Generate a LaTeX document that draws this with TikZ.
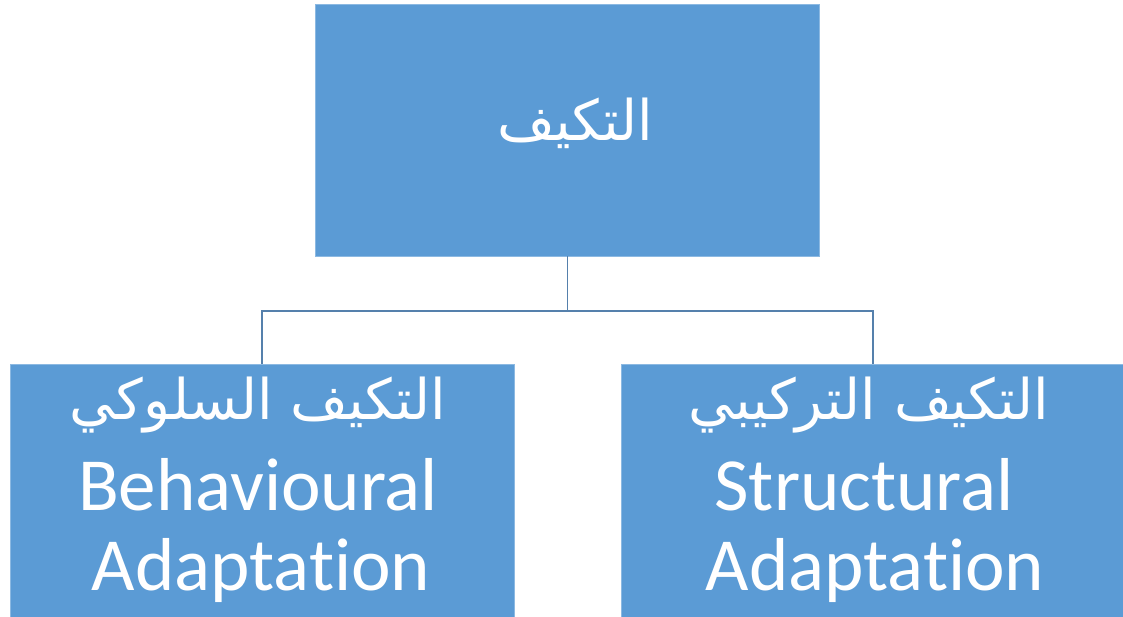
\documentclass[tikz,border=0pt]{standalone}
\usepackage{fontspec}
\setmainfont{Carlito}[Ligatures=NoCommon]
\newfontfamily\arabicfont[Script=Arabic]{DejaVu Sans}
\TeXXeTstate=1
\definecolor{boxblue}{HTML}{5B9BD5}
\definecolor{linkblue}{HTML}{5580AC}
\tikzset{
  box/.style={draw=boxblue!70!white, line width=0.8pt, fill=boxblue, minimum width=504pt, minimum height=252pt, inner sep=0pt},
  link/.style={draw=linkblue, line width=1.8pt},
  ar/.style={text=white, anchor=base, inner sep=0pt, font=\arabicfont\fontsize{56}{64}\selectfont},
  en/.style={text=white, anchor=base, inner sep=0pt, font=\fontsize{75}{80}\selectfont}
}
\begin{document}
\begin{tikzpicture}[x=1pt,y=-1pt]
\useasboundingbox (0,0) rectangle (1123,617);
\node[box] (top) at (567.5,130) {};
\node[box, minimum height=253pt] (left) at (262,490.5) {};
\node[box, minimum height=253pt] (right) at (873,490.5) {};
\coordinate (mid) at (567.5,311);
\draw[link] (top.south) -- (mid);
\draw[link] (mid) -| (left.north);
\draw[link] (mid) -| (right.north);
\node[ar] (toptxt) at (575,141) {\beginR التكيف\endR};
\node[ar] (ltxt1) at (258,419) {\beginR التكيف السلوكي\endR};
\node[en] (ltxt2) at (258,510) {Behavioural};
\node[en] (ltxt3) at (261,590) {Adaptat\kern0pt{}ion};
\node[ar] (rtxt1) at (869,419) {\beginR التكيف التركيبي\endR};
\node[en] (rtxt2) at (864,510) {Structural};
\node[en] (rtxt3) at (875,590) {Adaptat\kern0pt{}ion};
\end{tikzpicture}
\end{document}
